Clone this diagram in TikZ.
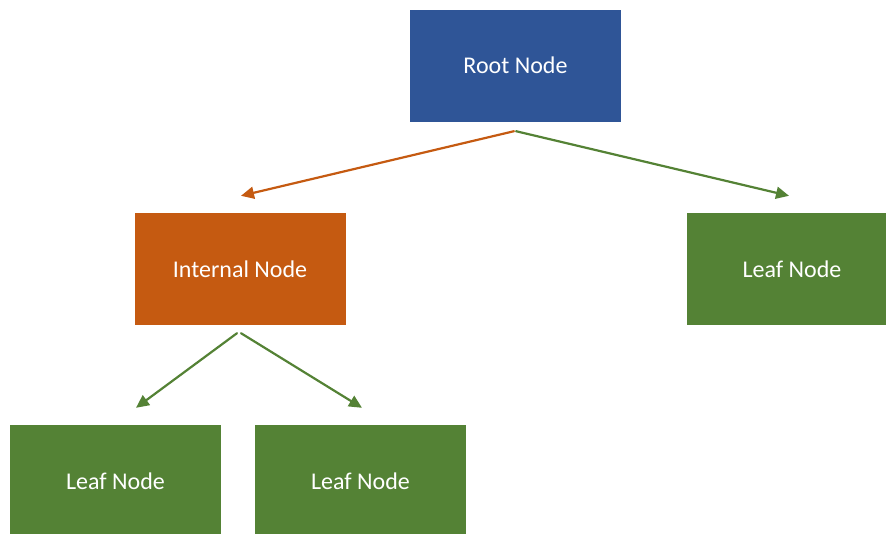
\documentclass[tikz,border=0pt]{standalone}
\usepackage{fontspec}
\setmainfont{Carlito}
\usepackage{tikz}
\usetikzlibrary{arrows.meta}
\definecolor{rootblue}{HTML}{2F5597}
\definecolor{innerorange}{HTML}{C55A11}
\definecolor{leafgreen}{HTML}{548235}

\begin{document}
\begin{tikzpicture}
    [line cap=round,line join=round,x=1pt,y=-1pt,
     box/.style={minimum width=211pt,minimum height=112pt,inner sep=0pt,text=white,font=\fontsize{24}{28}\selectfont},
     edge/.style={line width=2.2pt,-{Triangle[length=13pt,width=12pt]}}]
%main layer
\useasboundingbox (0,0) rectangle (886,533);
%creating the boxes
\node[box,fill=rootblue] (root) at (515.5,65.5) {Root Node};
\node[box,fill=innerorange] (internal) at (240,269) {Internal Node};
\node[box,fill=leafgreen] (leafright) at (792,269) {Leaf Node};
\node[box,fill=leafgreen] (leafleft) at (115.5,481) {Leaf Node};
\node[box,fill=leafgreen] (leafmid) at (360.5,481) {Leaf Node};

%free ends of the arrows
\coordinate (rootL) at ([xshift=-1.5pt,yshift=-9.5pt]root.south);
\coordinate (rootR) at ([xshift=0.5pt,yshift=-9.5pt]root.south);
\coordinate (internalT) at ([xshift=1pt,yshift=17pt]internal.north);
\coordinate (leafrightT) at ([xshift=-3pt,yshift=17pt]leafright.north);
\coordinate (internalL) at ([xshift=-3pt,yshift=-8pt]internal.south);
\coordinate (internalR) at ([xshift=1pt,yshift=-8pt]internal.south);
\coordinate (leafleftT) at ([xshift=20.5pt,yshift=17pt]leafleft.north);
\coordinate (leafmidT) at ([xshift=1.5pt,yshift=17pt]leafmid.north);

%creating the arrows
\draw[edge,color=innerorange] (rootL) -- (internalT);
\draw[edge,color=leafgreen] (rootR) -- (leafrightT);
\draw[edge,color=leafgreen] (internalL) -- (leafleftT);
\draw[edge,color=leafgreen] (internalR) -- (leafmidT);

\end{tikzpicture}
\end{document}
